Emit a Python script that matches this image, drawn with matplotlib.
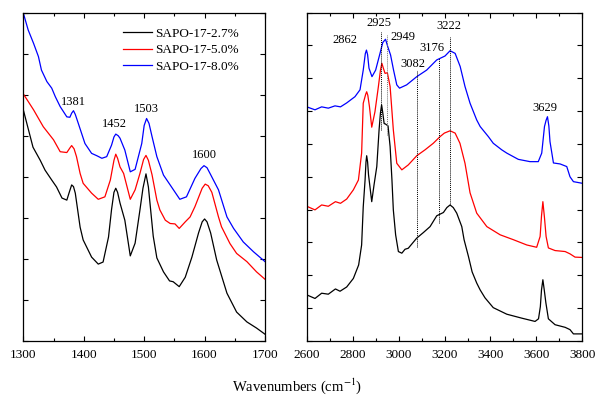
import numpy as np
import matplotlib.pyplot as plt
from matplotlib.ticker import MultipleLocator

plt.rcParams['font.family'] = ['Liberation Serif', 'DejaVu Serif']
plt.rcParams['mathtext.fontset'] = 'stix'

# ---- low-wavenumber region (1300-1700 cm-1) ----
wn_lo_black = [1300, 1316, 1328, 1336, 1347, 1355, 1364, 1372, 1376, 1380, 1383, 1386, 1394, 1399,
               1413, 1424, 1432, 1441, 1446, 1450, 1453, 1456, 1460, 1468, 1477, 1485, 1493, 1498,
               1503, 1507, 1511, 1515, 1521, 1532, 1542, 1548, 1558, 1568, 1579, 1590, 1596, 1600,
               1604, 1610, 1620, 1637, 1653, 1670, 1686, 1700]
ab_lo_black = [5.63, 4.72, 4.40, 4.16, 3.92, 3.75, 3.48, 3.43, 3.62, 3.80, 3.76, 3.60, 2.77, 2.46,
               2.04, 1.87, 1.92, 2.53, 3.20, 3.62, 3.72, 3.62, 3.36, 2.94, 2.07, 2.38, 3.19, 3.72,
               4.07, 3.75, 3.15, 2.55, 2.02, 1.68, 1.46, 1.44, 1.32, 1.55, 2.04, 2.63, 2.90, 2.97,
               2.90, 2.63, 1.97, 1.16, 0.70, 0.46, 0.31, 0.16]

wn_lo_red = [1300, 1317, 1333, 1350, 1361, 1372, 1377, 1380, 1384, 1388, 1394, 1399, 1413, 1424,
             1435, 1444, 1450, 1453, 1456, 1460, 1466, 1477, 1485, 1493, 1499, 1503, 1507, 1513,
             1521, 1526, 1535, 1543, 1551, 1558, 1568, 1576, 1584, 1596, 1601, 1606, 1612, 1623,
             1628, 1642, 1653, 1670, 1686, 1700]
ab_lo_red = [6.02, 5.63, 5.22, 4.90, 4.61, 4.59, 4.70, 4.76, 4.68, 4.49, 4.08, 3.84, 3.60, 3.45,
             3.51, 3.92, 4.40, 4.55, 4.45, 4.24, 4.08, 3.45, 3.68, 4.08, 4.42, 4.52, 4.40, 4.05,
             3.43, 3.19, 2.94, 2.86, 2.85, 2.74, 2.90, 3.02, 3.27, 3.72, 3.82, 3.78, 3.62, 3.02,
             2.78, 2.37, 2.13, 1.93, 1.68, 1.50]

wn_lo_blue = [1300, 1308, 1317, 1325, 1330, 1339, 1347, 1353, 1361, 1372, 1377, 1380, 1383, 1386,
              1391, 1402, 1413, 1422, 1430, 1438, 1446, 1450, 1453, 1457, 1460, 1468, 1477, 1485,
              1496, 1500, 1504, 1508, 1513, 1521, 1532, 1543, 1559, 1570, 1584, 1594, 1599, 1604,
              1609, 1623, 1637, 1648, 1664, 1681, 1700]
ab_lo_blue = [7.99, 7.58, 7.25, 6.93, 6.60, 6.32, 6.16, 5.95, 5.71, 5.46, 5.45, 5.55, 5.61, 5.52,
              5.30, 4.81, 4.57, 4.51, 4.45, 4.49, 4.77, 4.97, 5.04, 5.00, 4.94, 4.65, 4.12, 4.18,
              4.81, 5.25, 5.42, 5.30, 4.98, 4.49, 4.04, 3.80, 3.45, 3.51, 3.96, 4.20, 4.27, 4.22,
              4.08, 3.68, 3.02, 2.74, 2.41, 2.17, 1.93]

# ---- high-wavenumber region (2600-3800 cm-1) ----
wn_hi_black = [2600, 2636, 2665, 2694, 2725, 2745, 2774, 2803, 2826, 2839, 2846, 2854, 2858,
               2861, 2865, 2869, 2883, 2893, 2905, 2915, 2921, 2926, 2931, 2937, 2942, 2948, 2954,
               2963, 2971, 2977, 2987, 2999, 3014, 3028, 3042, 3079, 3108, 3137, 3166, 3195, 3210,
               3224, 3238, 3253, 3275, 3285, 3304, 3320, 3340, 3355, 3376, 3412, 3471, 3536, 3594,
               3609, 3617, 3622, 3628, 3634, 3641, 3652, 3681, 3725, 3746, 3761, 3800]
ab_hi_black = [1.40, 1.29, 1.45, 1.42, 1.58, 1.51, 1.64, 1.90, 2.31, 2.92, 4.08, 4.90, 5.45,
               5.64, 5.45, 5.06, 4.24, 4.75, 5.31, 6.43, 6.95, 7.19, 6.95, 6.62, 6.61, 6.58, 6.55,
               5.92, 4.90, 3.99, 3.23, 2.72, 2.67, 2.79, 2.82, 3.13, 3.30, 3.48, 3.81, 3.91, 4.06,
               4.14, 4.06, 3.89, 3.48, 3.08, 2.57, 2.10, 1.76, 1.55, 1.31, 1.01, 0.81, 0.69, 0.59,
               0.67, 1.04, 1.55, 1.86, 1.55, 1.16, 0.67, 0.49, 0.41, 0.34, 0.21, 0.21]

wn_hi_red = [2600, 2636, 2665, 2694, 2725, 2747, 2774, 2803, 2825, 2839, 2846, 2857, 2861,
             2866, 2873, 2883, 2897, 2912, 2921, 2927, 2934, 2941, 2951, 2963, 2977, 2992, 3014,
             3042, 3079, 3115, 3151, 3180, 3199, 3224, 3246, 3267, 3289, 3311, 3340, 3384, 3442,
             3500, 3558, 3601, 3616, 3622, 3628, 3635, 3642, 3652, 3681, 3725, 3746, 3768, 3800]
ab_hi_red = [4.10, 3.99, 4.14, 4.10, 4.24, 4.19, 4.32, 4.60, 4.90, 5.72, 7.24, 7.52, 7.59,
             7.48, 7.14, 6.51, 6.98, 7.75, 8.25, 8.46, 8.30, 8.15, 8.17, 7.75, 6.43, 5.41, 5.21,
             5.36, 5.64, 5.82, 6.02, 6.22, 6.33, 6.40, 6.33, 6.02, 5.41, 4.51, 3.89, 3.48, 3.23,
             3.08, 2.92, 2.85, 3.18, 3.80, 4.24, 3.75, 3.18, 2.83, 2.75, 2.72, 2.65, 2.55, 2.54]

wn_hi_blue = [2600, 2636, 2665, 2694, 2723, 2747, 2774, 2810, 2832, 2846, 2855, 2860, 2865,
              2871, 2884, 2900, 2919, 2931, 2943, 2953, 2965, 2978, 2992, 3004, 3035, 3079,
              3122, 3166, 3202, 3224, 3246, 3268, 3289, 3311, 3340, 3355, 3391, 3412, 3449,
              3471, 3521, 3572, 3608, 3623, 3635, 3642, 3648, 3654, 3659, 3674, 3703, 3732,
              3746, 3761, 3800]
ab_hi_blue = [7.13, 7.04, 7.13, 7.09, 7.16, 7.13, 7.25, 7.44, 7.65, 8.25, 8.75, 8.86, 8.72,
              8.31, 8.05, 8.25, 8.76, 9.09, 9.19, 8.96, 8.71, 8.25, 7.80, 7.70, 7.80, 8.05,
              8.25, 8.56, 8.68, 8.84, 8.76, 8.36, 7.75, 7.24, 6.73, 6.53, 6.22, 6.02, 5.82,
              5.72, 5.53, 5.46, 5.46, 5.72, 6.53, 6.72, 6.83, 6.55, 6.07, 5.42, 5.39, 5.31,
              5.00, 4.85, 4.80]

series_names = ['SAPO-17-2.7%', 'SAPO-17-5.0%', 'SAPO-17-8.0%']
series_colors = ['black', 'red', 'blue']

# peak labels: (text, x, y)
lo_labels = [('1381', 1383, 5.83), ('1452', 1451, 5.29), ('1503', 1503, 5.64), ('1600', 1599, 4.53)]
hi_labels = [('2862', 2767, 9.17), ('2925', 2915, 9.68), ('2949', 3021, 9.25), ('3082', 3060, 8.44),
             ('3176', 3144, 8.92), ('3222', 3220, 9.60), ('3629', 3638, 7.09)]
# dotted guide lines: (x, ymin, ymax, colour)
guides = [(2925, 6.43, 9.42, 'black'), (2949, 6.27, 9.32, '0.45'), (3082, 2.87, 8.25, 'black'),
          (3176, 3.60, 8.62, 'black'), (3222, 4.14, 9.27, 'black')]

fig = plt.figure(figsize=(5.95, 3.99), dpi=100)
ax1 = fig.add_axes([0.0392, 0.1459, 0.4062, 0.8223])
ax2 = fig.add_axes([0.5155, 0.1459, 0.4633, 0.8223])

lo = [(wn_lo_black, ab_lo_black), (wn_lo_red, ab_lo_red), (wn_lo_blue, ab_lo_blue)]
hi = [(wn_hi_black, ab_hi_black), (wn_hi_red, ab_hi_red), (wn_hi_blue, ab_hi_blue)]
for (x, y), name, c in zip(lo, series_names, series_colors):
    ax1.plot(x, y, color=c, lw=0.9, label=name, solid_joinstyle='round')
for (x, y), c in zip(hi, series_colors):
    ax2.plot(x, y, color=c, lw=0.9, solid_joinstyle='round')

for x, y0, y1, c in guides:
    ax2.plot([x, x], [y0, y1], color=c, lw=0.7, ls=(0, (1, 1)))

for t, x, y in lo_labels:
    ax1.text(x, y, t, ha='center', va='center', fontsize=9)
for t, x, y in hi_labels:
    ax2.text(x, y, t, ha='center', va='center', fontsize=9)

ax1.set_xlim(1300, 1700)
ax1.set_ylim(0, 8)
ax1.xaxis.set_major_locator(MultipleLocator(100))
ax1.xaxis.set_minor_locator(MultipleLocator(50))
ax1.yaxis.set_major_locator(MultipleLocator(1))

ax2.set_xlim(2600, 3800)
ax2.set_ylim(0, 10)
ax2.xaxis.set_major_locator(MultipleLocator(200))
ax2.xaxis.set_minor_locator(MultipleLocator(100))
ax2.yaxis.set_major_locator(MultipleLocator(1))

for ax in (ax1, ax2):
    ax.tick_params(which='both', direction='in', top=True, right=True, labelsize=9.5, pad=6)
    ax.tick_params(which='major', length=3.5, width=0.8)
    ax.tick_params(which='minor', length=2.5, width=0.8)
    ax.tick_params(axis='y', labelleft=False)
    for s in ax.spines.values():
        s.set_linewidth(0.9)

ax1.legend(loc='upper left', frameon=False, fontsize=9.5, handlelength=2.2,
           handletextpad=0.25, labelspacing=0.32, borderpad=0, borderaxespad=0,
           bbox_to_anchor=(0.412, 0.954))

fig.text(0.5, 0.033, r'Wavenumbers (cm$^{-1}$)', ha='center', va='center', fontsize=10.5)

fig.savefig('out.png', dpi=100)
